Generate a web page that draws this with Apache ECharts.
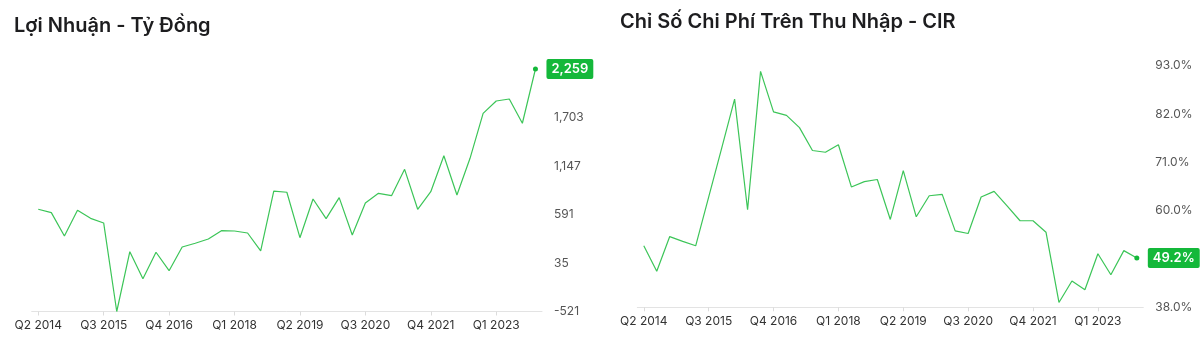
<!DOCTYPE html>
<html><head><meta charset="utf-8">
<script src="https://cdn.jsdelivr.net/npm/echarts@6/dist/echarts.min.js"></script>
<style>html,body{margin:0;padding:0;background:#fff}#c{width:1200px;height:352px}</style>
</head><body><div id="c"></div>
<script>
const categories = ['Q2 2014','Q3 2014','Q4 2014','Q1 2015','Q2 2015','Q3 2015','Q4 2015','Q1 2016','Q2 2016','Q3 2016','Q4 2016','Q1 2017','Q2 2017','Q3 2017','Q4 2017','Q1 2018','Q2 2018','Q3 2018','Q4 2018','Q1 2019','Q2 2019','Q3 2019','Q4 2019','Q1 2020','Q2 2020','Q3 2020','Q4 2020','Q1 2021','Q2 2021','Q3 2021','Q4 2021','Q1 2022','Q2 2022','Q3 2022','Q4 2022','Q1 2023','Q2 2023','Q3 2023','Q4 2023'];
const profit = [651,612,345,639,547,494,-521,165,-145,158,-53,218,261,310,405,402,379,173,860,846,325,769,543,784,356,723,834,807,1109,651,852,1265,815,1235,1751,1892,1915,1637,2259];
const cir = [52.0,46.2,54.1,53.0,52.0,63.1,74.2,85.4,60.2,91.7,82.5,81.7,78.9,73.7,73.3,75.0,65.4,66.6,67.1,58.0,69.1,58.6,63.4,63.7,55.4,54.8,63.1,64.4,61.1,57.7,57.7,55.1,39.1,44.0,42.0,50.2,45.4,50.9,49.2];
const titles = ['Lợi Nhuận - Tỷ Đồng','Chỉ Số Chi Phí Trên Thu Nhập - CIR'];
const profitAxis = {min:-521, max:2259, interval:556};
const cirAxis = {min:38, max:93, interval:11};

const FONT = 'Inter';
const lineColor = '#3cc558';
const boxColor = '#14b83a';
const fmtNum = v => Math.round(v).toLocaleString('en-US');
const fmtPct = v => v.toFixed(1) + '%';

function withLastDot(arr){
  return arr.map((v,i)=> i===arr.length-1 ? {value:v, symbol:'circle', symbolSize:5} : v);
}
function xAxis(gi){
  return {type:'category', gridIndex:gi, data:categories, boundaryGap:true,
    axisLine:{onZero:false, lineStyle:{color:'#e3e3e3'}},
    axisTick:{show:true, alignWithLabel:true, interval:4, length:4, lineStyle:{color:'#dcdcdc'}},
    axisLabel:{interval:4, color:'#333', fontSize:12, fontFamily:FONT, margin:8}};
}
function yAxis(gi, ax, fmt, hideVal){
  return {type:'value', gridIndex:gi, position:'right', min:ax.min, max:ax.max, interval:ax.interval,
    axisLine:{show:false}, axisTick:{show:false}, splitLine:{show:false},
    axisLabel:{color:'#555', fontSize:12, fontFamily:FONT, margin:12,
      formatter: v => (Math.abs(v-hideVal)<1e-6 ? '' : fmt(v))}};
}
function series(gi, data, fmt){
  return {type:'line', xAxisIndex:gi, yAxisIndex:gi, data:withLastDot(data), symbol:'none',
    lineStyle:{color:lineColor, width:1.2}, itemStyle:{color:boxColor}, silent:true, animation:false,
    endLabel:{show:true, distance:11, formatter: p => fmt(p.value), backgroundColor:boxColor,
      color:'#fff', fontSize:13, fontWeight:600, fontFamily:FONT, padding:[4,5,3,5], borderRadius:2}};
}

const chart = echarts.init(document.getElementById('c'), null, {renderer:'canvas'});
chart.setOption({
  animation:false,
  backgroundColor:'#fff',
  title:[
    {text:titles[0], left:9, top:11, textStyle:{fontFamily:FONT, fontSize:20, fontWeight:600, color:'#1d1d1f'}},
    {text:titles[1], left:615, top:7, textStyle:{fontFamily:FONT, fontSize:20, fontWeight:600, color:'#1d1d1f'}}
  ],
  grid:[
    {left:31.7, right:658, top:69, bottom:40.5},
    {left:637.3, right:56.7, top:65.7, bottom:44.7}
  ],
  xAxis:[xAxis(0), xAxis(1)],
  yAxis:[yAxis(0, profitAxis, fmtNum, 2259), yAxis(1, cirAxis, fmtPct, 49)],
  series:[series(0, profit, fmtNum), series(1, cir, fmtPct)]
});
</script></body></html>
